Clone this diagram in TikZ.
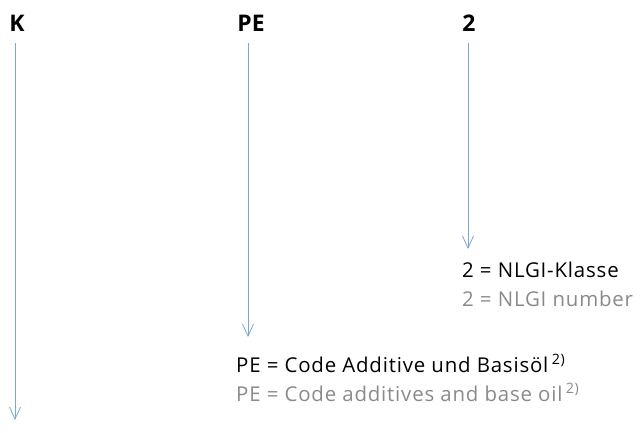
\documentclass[tikz,border=0pt]{standalone}
\usepackage{fontspec}
\setmainfont{Open Sans}
\newfontfamily\bodyfont[LetterSpace=4]{Open Sans}
\usetikzlibrary{arrows.meta}
\definecolor{arrowblue}{HTML}{7BA7D3}
\definecolor{txtgray}{HTML}{8A8A8A}
\tikzset{
  head/.style={font=\fontsize{23}{26}\selectfont\bfseries, anchor=base, inner sep=0pt},
  de/.style={font=\bodyfont\fontsize{20.5}{24}\selectfont, anchor=base west, inner sep=0pt, text=black},
  en/.style={font=\bodyfont\fontsize{20.5}{24}\selectfont, anchor=base west, inner sep=0pt, text=txtgray},
  arr/.style={draw=arrowblue, line width=0.8bp, -{Straight Barb[length=12bp,width=11bp,line width=0.8bp]}},
}
\begin{document}
\begin{tikzpicture}[x=1bp,y=-1bp]
\useasboundingbox (0,0) rectangle (640,432);
\node[head] (k) at (17,31) {K};
\node[head] (pe) at (251,31) {PE};
\node[head] (two) at (469,31) {2};
\coordinate (ks) at (15,43);
\coordinate (ke) at (15,420);
\coordinate (pes) at (248,43);
\coordinate (pee) at (248,337);
\coordinate (ts) at (468,43);
\coordinate (te) at (468,249);
\draw[arr] (ks) -- (ke);
\draw[arr] (pes) -- (pee);
\draw[arr] (ts) -- (te);
\node[de] (tde) at (462,277) {2 = NLGI-Klasse};
\node[en] (ten) at (462,306) {2 = NLGI number};
\node[de] (pede) at (236,372) {PE = Code Additive und Basisöl\,\textsuperscript{2)}};
\node[en] (peen) at (236,401) {PE = Code additives and base oil\,\textsuperscript{2)}};
\end{tikzpicture}
\end{document}
